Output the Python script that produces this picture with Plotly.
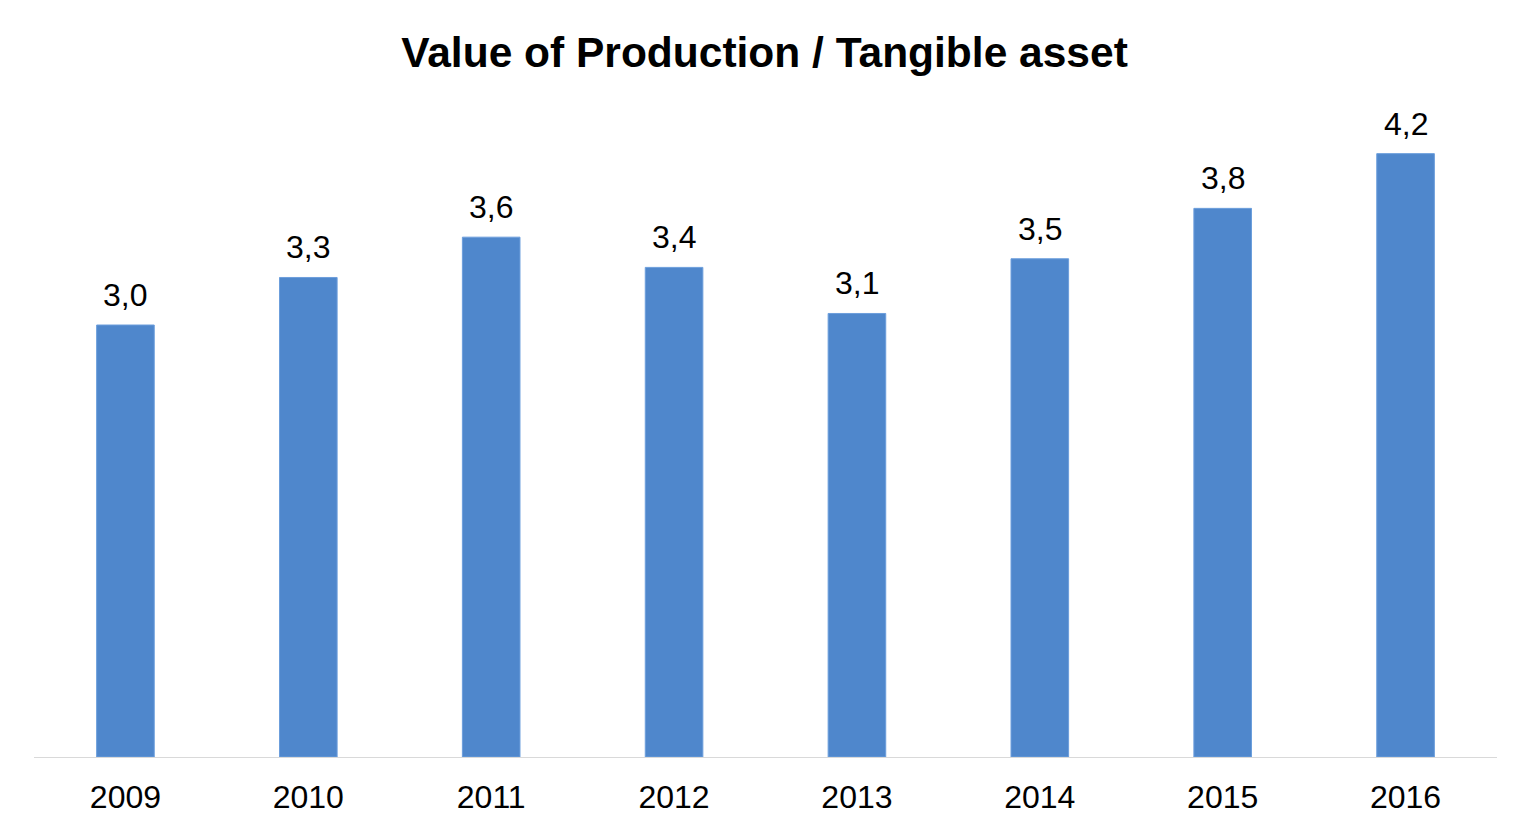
import plotly.graph_objects as go

years = ["2009", "2010", "2011", "2012", "2013", "2014", "2015", "2016"]
values = [3.0, 3.33, 3.61, 3.40, 3.08, 3.46, 3.81, 4.19]
labels = ["3,0", "3,3", "3,6", "3,4", "3,1", "3,5", "3,8", "4,2"]

FONT = "Liberation Sans, Arial"

fig = go.Figure(go.Bar(
    x=years, y=values,
    marker=dict(color="#4F87CC", line=dict(color="#6C9EDC", width=1)),
    hoverinfo="x+y",
))

# annotations on a category axis are placed by category index
for i, (v, lab) in enumerate(zip(values, labels)):
    fig.add_annotation(x=i, y=v, text=lab, showarrow=False,
                       xanchor="center", yanchor="bottom", yshift=10,
                       font=dict(family=FONT, size=32, color="#000000"))

fig.update_layout(
    width=1510, height=818,
    margin=dict(l=26, r=21, t=101, b=69),
    paper_bgcolor="white", plot_bgcolor="white",
    separators=",.",
    bargap=0.685,
    showlegend=False,
    title=dict(text="<b>Value of Production / Tangible asset</b>",
               x=0.501, xanchor="center", y=0.946, yanchor="middle",
               font=dict(family=FONT, size=42.5, color="#000000")),
    xaxis=dict(type="category", range=[-0.5, len(years) - 0.5],
               showgrid=False, showline=True,
               linecolor="#D9D9D9", linewidth=1,
               ticks="", ticklabelstandoff=12,
               tickfont=dict(family=FONT, size=32, color="#000000")),
    yaxis=dict(range=[0, 4.5], visible=False, showgrid=False, zeroline=False),
)

fig.write_html("out.html")
